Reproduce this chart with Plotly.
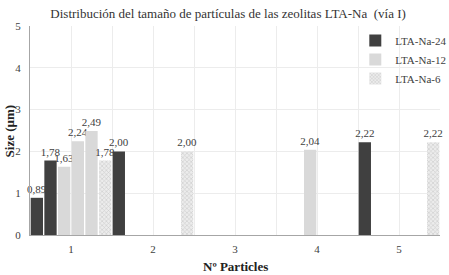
import plotly.graph_objects as go

categories = [1, 2, 3, 4, 5]
tick_labels = ["1", "2", "3", "4", "5"]
# six bar slots per category (as in the original Excel chart)
s1_na24 = [0.89, 2.00, None, None, 2.22]
s2_na24 = [1.78, None, None, None, None]
s3_na12 = [1.63, None, None, 2.04, None]
s4_na12 = [2.24, None, None, None, None]
s5_na12 = [2.49, None, None, None, None]
s6_na6 = [1.78, 2.00, None, None, 2.22]

DARK = "#404040"
LIGHT = "#d9d9d9"
FONT = "Liberation Serif"

series = [
    ("LTA-Na-24", s1_na24, DARK, None, True),
    ("LTA-Na-24", s2_na24, DARK, None, False),
    ("LTA-Na-12", s3_na12, LIGHT, None, True),
    ("LTA-Na-12", s4_na12, LIGHT, None, False),
    ("LTA-Na-12", s5_na12, LIGHT, None, False),
    ("LTA-Na-6", s6_na6, "#ffffff", "x", True),
]

fig = go.Figure()
for name, vals, color, pat, show in series:
    marker = dict(color=color, line=dict(width=0))
    if pat:
        marker["pattern"] = dict(shape="x", size=3, solidity=0.35, fgcolor="#a8a8a8", bgcolor="#ececec")
    fig.add_trace(go.Bar(
        x=categories, y=vals, name=name, legendgroup=name, showlegend=show,
        marker=marker,
        texttemplate="%{y:.2f}", textposition="outside", cliponaxis=False,
        constraintext="none",
        textfont=dict(family=FONT, size=11, color="#404040"),
    ))

fig.update_layout(
    width=449, height=275,
    margin=dict(l=30, r=9, t=26, b=40, autoexpand=False),
    paper_bgcolor="white", plot_bgcolor="white",
    barmode="group", bargap=0, bargroupgap=0.1,
    separators=",.",
    font=dict(family=FONT, size=11, color="#404040"),
    title=dict(text="Distribución del tamaño de partículas de las zeolitas LTA-Na  (vía I)",
               x=0.508, xanchor="center", y=0.95, yanchor="middle",
               font=dict(family=FONT, size=13, color="#333333")),
    legend=dict(x=1.03, xanchor="right", y=1.0, yanchor="top",
                bgcolor="rgba(0,0,0,0)", font=dict(family=FONT, size=11, color="#404040"),
                itemwidth=30, tracegroupgap=0),
    showlegend=True,
    annotations=[
        dict(text="<b>Nº Particles</b>", xref="paper", yref="paper", x=0.5, y=-0.153,
             xanchor="center", yanchor="middle", showarrow=False,
             font=dict(family=FONT, size=13, color="#222")),
        dict(text="<b>Size (µm)</b>", xref="paper", yref="paper", x=-0.049, y=0.5,
             xanchor="center", yanchor="middle", textangle=-90, showarrow=False,
             font=dict(family=FONT, size=13, color="#222")),
    ],
)
fig.update_xaxes(
    range=[0.5, 5.5], tickmode="array", tickvals=categories, ticktext=tick_labels,
    showgrid=True, gridcolor="#ececec",
    minor=dict(dtick=0.5, tick0=0.5, showgrid=True, gridcolor="#ececec"),
    showline=True, linecolor="#a6a6a6", ticks="", automargin=False, ticklabelstandoff=4,
    tickfont=dict(family=FONT, size=11, color="#404040"),
)
fig.update_yaxes(
    range=[0, 5], dtick=1, showgrid=True, gridcolor="#ececec",
    showline=True, linecolor="#a6a6a6", ticks="", zeroline=False, automargin=False,
    ticklabelstandoff=6,
    tickfont=dict(family=FONT, size=11, color="#404040"),
)

fig.write_html("out.html", config={"displayModeBar": False},
               post_script="document.body.style.margin='0';document.body.style.overflow='hidden';")
